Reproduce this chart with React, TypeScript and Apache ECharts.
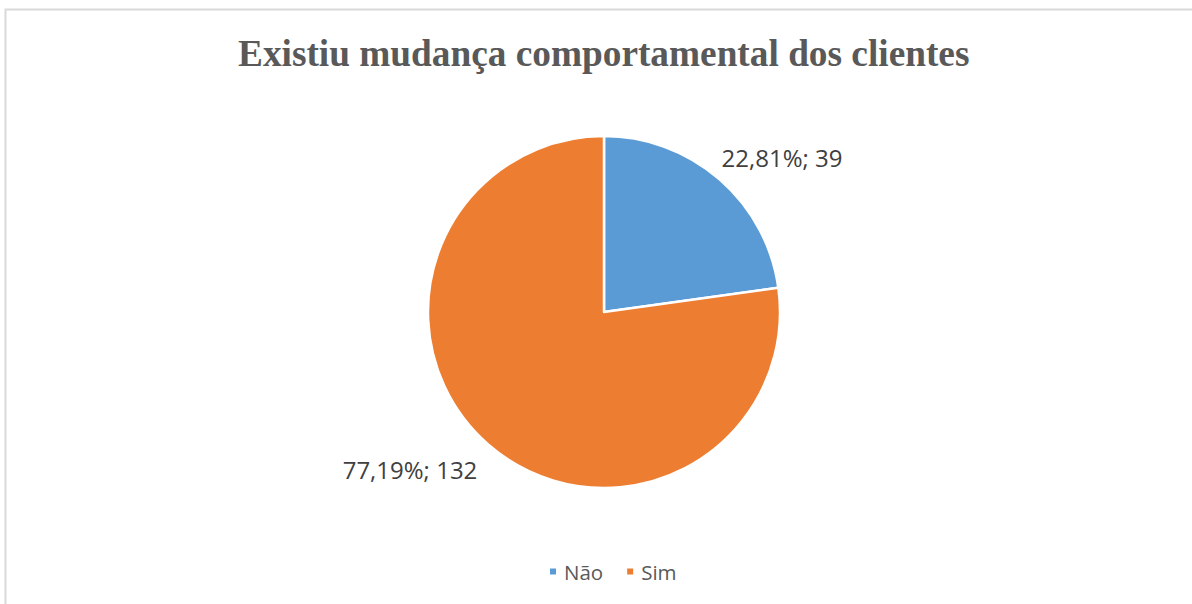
import React, { useEffect, useRef } from "react";
import * as echarts from "echarts";

const titleText = "Existiu mudança comportamental dos clientes";
const categories = ["Não", "Sim"];
const values = [39, 132];
const colors = ["#5B9BD5", "#ED7D31"];
const labelPos = [
  [782, 157],
  [410, 469],
];

export default function App() {
  const ref = useRef<HTMLDivElement>(null);
  useEffect(() => {
    document.body.style.margin = "0";
    const chart = echarts.init(ref.current!, null, { renderer: "svg" });
    chart.setOption({
      animation: false,
      backgroundColor: "#ffffff",
      title: {
        text: titleText,
        left: 233,
        top: 30,
        textStyle: {
          fontFamily: "Liberation Serif",
          fontWeight: "bold",
          fontSize: 37.3,
          color: "#595959",
        },
      },
      legend: {
        bottom: 17,
        left: 543,
        icon: "rect",
        itemWidth: 8,
        itemHeight: 8,
        itemGap: 22,
        textStyle: { fontFamily: "Open Sans", fontSize: 20.5, color: "#595959", padding: [0, 0, 0, 2] },
        data: categories,
      },
      graphic: [
        {
          type: "rect",
          shape: { x: 5.5, y: 9.5, width: 1400, height: 800 },
          style: { fill: "none", stroke: "#d9d9d9", lineWidth: 2 },
          silent: true,
        },
      ],
      series: [
        {
          type: "pie",
          center: [604, 312],
          radius: 176,
          startAngle: 90,
          clockwise: true,
          data: categories.map((c, i) => ({
            name: c,
            value: values[i],
            itemStyle: { color: colors[i] },
          })),
          itemStyle: { borderColor: "#ffffff", borderWidth: 2.5 },
          label: {
            show: true,
            position: "outside",
            fontFamily: "Open Sans",
            fontSize: 24,
            color: "#404040",
            formatter: (p: any) =>
              `${p.percent.toFixed(2).replace(".", ",")}%; ${p.value}`,
          },
          labelLine: { show: false },
          labelLayout: (p: any) => ({
            x: labelPos[p.dataIndex][0],
            y: labelPos[p.dataIndex][1],
            align: "center",
            verticalAlign: "middle",
          }),
          emphasis: { disabled: true },
        },
      ],
    });
    return () => chart.dispose();
  }, []);
  return <div ref={ref} style={{ width: 1192, height: 604 }} />;
}
